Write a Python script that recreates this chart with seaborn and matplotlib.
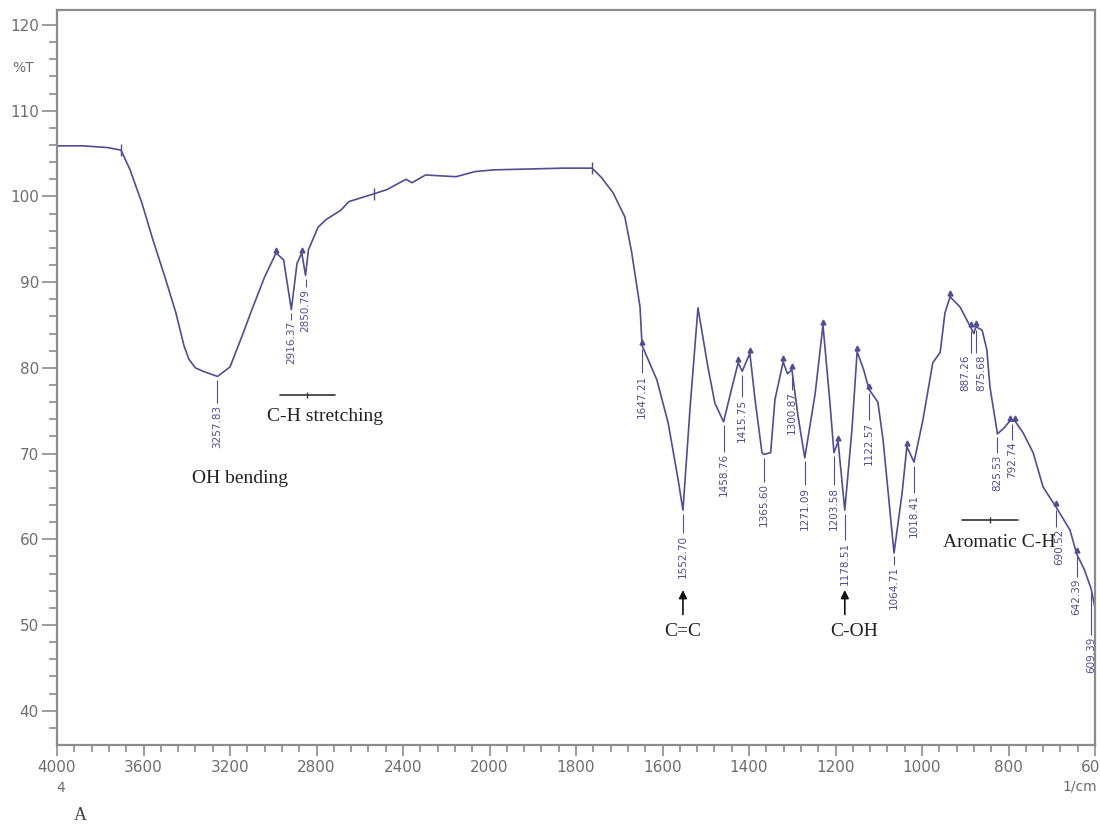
import numpy as np
import pandas as pd
import matplotlib
matplotlib.use("Agg")
import matplotlib.pyplot as plt
import seaborn as sns
from matplotlib import font_manager
from matplotlib.ticker import FixedLocator, FixedFormatter, NullFormatter

# ---- FTIR spectrum (wavenumber in 1/cm, transmittance in %T) ----
wavenumber = [4000, 3880, 3766, 3704, 3662, 3607, 3556, 3501, 3450, 3413,
              3390, 3360, 3325, 3257.83, 3200, 3146, 3094, 3040, 2987, 2952,
              2916.37, 2890, 2868, 2850.79, 2837, 2793, 2756, 2687, 2650, 2599,
              2535, 2474, 2386, 2358, 2296, 2224, 2155, 2067, 1990, 1909,
              1830, 1763, 1741, 1714, 1687, 1671, 1652, 1647.21, 1613, 1587,
              1564, 1552.70, 1536, 1518, 1495, 1479, 1458.76, 1439, 1425, 1415.75,
              1398, 1386, 1370, 1365.60, 1350, 1340, 1321, 1311, 1300.87, 1287,
              1271.09, 1247, 1229, 1213, 1203.58, 1194, 1178.51, 1162, 1150, 1135,
              1122.57, 1102, 1090, 1064.71, 1046, 1035, 1018.41, 998, 975, 958,
              947, 935, 912, 887.26, 880, 875.68, 861, 850, 843, 825.53,
              810, 797, 785, 766, 743, 720, 697, 690.52, 658, 642.39,
              625, 609.39, 600]
transmittance = [105.9, 105.9, 105.7, 105.4, 103.1, 99.2, 94.9, 90.6, 86.4, 82.6,
                 81.0, 80.0, 79.6, 79.0, 80.1, 83.6, 87.1, 90.6, 93.4, 92.6,
                 86.8, 92.2, 93.4, 90.8, 93.8, 96.4, 97.3, 98.4, 99.4, 99.8,
                 100.3, 100.8, 102.0, 101.6, 102.5, 102.4, 102.3, 102.9, 103.1, 103.2,
                 103.3, 103.3, 102.2, 100.4, 97.6, 93.4, 87.1, 82.6, 78.6, 73.6,
                 67.0, 63.4, 75.5, 87.0, 80.1, 75.9, 73.7, 77.8, 80.6, 79.6,
                 81.7, 76.3, 70.1, 69.9, 70.1, 76.3, 80.7, 79.3, 79.8, 74.5,
                 69.5, 77.0, 85.0, 76.0, 70.1, 71.4, 63.4, 72.8, 81.9, 79.8,
                 77.5, 76.0, 71.6, 58.4, 65.4, 70.8, 69.0, 73.9, 80.6, 81.8,
                 86.4, 88.3, 87.1, 84.7, 84.0, 84.8, 84.4, 82.1, 77.8, 72.3,
                 73.0, 73.8, 73.8, 72.4, 70.1, 66.1, 64.3, 63.8, 61.1, 58.3,
                 56.5, 54.3, 52.0]

# Peak-pick labels and the %T level where each label text begins
peak_positions = [3257.83, 2916.37, 2850.79, 1647.21, 1552.70, 1458.76, 1415.75,
                  1365.60, 1300.87, 1271.09, 1203.58, 1178.51, 1122.57, 1064.71,
                  1018.41, 887.26, 875.68, 825.53, 792.74, 690.52, 642.39, 609.39]
peak_texts = ["3257.83", "2916.37", "2850.79", "1647.21", "1552.70", "1458.76", "1415.75",
              "1365.60", "1300.87", "1271.09", "1203.58", "1178.51", "1122.57", "1064.71",
              "1018.41", "887.26", "875.68", "825.53", "792.74", "690.52", "642.39", "609.39"]
label_top = [75.9, 85.6, 89.4, 79.4, 60.7, 70.2, 76.6,
             66.7, 77.4, 66.3, 66.3, 59.9, 73.9, 57.0,
             65.4, 81.7, 81.7, 70.1, 71.6, 61.4, 55.6, 48.8]
label_shift = [0, 0, 0, 0, 0, 0, 0,
               0, 0, 0, 0, 0, 0, 0,
               0, -4, 4, 0, 0, 2.5, 0, 0]

# Peak-pick marks drawn on the trace
tick_marks = [3704, 2535, 1763]
triangle_marks = [2987, 2868, 1647.21, 1425, 1398, 1321, 1300.87, 1229, 1194, 1150,
                  1122.57, 1035, 935, 887.26, 875.68, 797, 785, 690.52, 642.39]

# Axis ticks
major_ticks = [4000, 3600, 3200, 2800, 2400, 2000, 1800, 1600, 1400, 1200, 1000, 800, 600]
major_tick_text = ["4000", "3600", "3200", "2800", "2400", "2000", "1800", "1600",
                   "1400", "1200", "1000", "800", "600"]
y_major = [40, 50, 60, 70, 80, 90, 100, 110, 120]

LINE = "#4e4e90"
AXIS = "#8c8c8c"
TICKTXT = "#6e6e6e"

sns.set_theme(style="white")
available = {f.name for f in font_manager.fontManager.ttflist}
narrow = "Liberation Sans Narrow" if "Liberation Sans Narrow" in available else "DejaVu Sans"
plt.rcParams["font.family"] = [narrow, "DejaVu Sans"]
serif = ["Liberation Serif", "DejaVu Serif"]

df = pd.DataFrame({"wavenumber": wavenumber, "T": transmittance})


def to_axis(w):
    w = np.asarray(w, dtype=float)
    return np.where(w <= 2000, w / 200.0, 10.0 + (w - 2000.0) / 400.0)


def from_axis(u):
    u = np.asarray(u, dtype=float)
    return np.where(u <= 10, u * 200.0, 2000.0 + (u - 10.0) * 400.0)


fig = plt.figure(figsize=(11, 8.25), dpi=100)
ax = fig.add_axes([57 / 1100, 1 - 745 / 825, (1095 - 57) / 1100, (745 - 10) / 825])
ax.set_xscale("function", functions=(to_axis, from_axis))

sns.lineplot(data=df, x="wavenumber", y="T", sort=False, estimator=None,
             color=LINE, linewidth=1.2, ax=ax)


def t_at(w):
    return float(np.interp(w, wavenumber[::-1], transmittance[::-1]))


# peak-pick marks
ax.plot(tick_marks, [t_at(w) for w in tick_marks], linestyle="none", marker="|",
        markersize=9, markeredgewidth=1.0, color=LINE)
ax.plot(triangle_marks, [t_at(w) + 0.4 for w in triangle_marks], linestyle="none",
        marker="^", markersize=3.5, color=LINE)

# peak labels with leader lines
for w, txt, top, dx in zip(peak_positions, peak_texts, label_top, label_shift):
    val = t_at(w)
    ax.vlines(w, top, val - 0.4, color=LINE, linewidth=0.8)
    ax.annotate(txt, xy=(w, top), xytext=(dx, -1), textcoords="offset points",
                rotation=90, ha="center", va="top", fontsize=7.5, color=LINE,
                family=["DejaVu Sans"])

# band assignments
ax.text(3154, 67.1, "OH bending", family=serif, fontsize=14, color="#222222",
        ha="center", va="center")
ax.plot([2969, 2714], [76.8, 76.8], color="#333333", linewidth=1.2)
ax.plot([2844], [76.8], marker="|", markersize=4, color="#333333")
ax.text(2761, 74.3, "C-H stretching", family=serif, fontsize=14, color="#222222",
        ha="center", va="center")

ax.annotate("", xy=(1552.70, 54.4), xytext=(1552.70, 50.9),
            arrowprops=dict(arrowstyle="-|>", color="#111111", lw=1.2, mutation_scale=12))
ax.text(1552.70, 49.3, "C=C", family=serif, fontsize=14, color="#222222",
        ha="center", va="center")
ax.annotate("", xy=(1178.51, 54.4), xytext=(1178.51, 50.9),
            arrowprops=dict(arrowstyle="-|>", color="#111111", lw=1.2, mutation_scale=12))
ax.text(1157, 49.3, "C-OH", family=serif, fontsize=14, color="#222222",
        ha="center", va="center")

ax.plot([908, 778], [62.2, 62.2], color="#333333", linewidth=1.2)
ax.plot([843], [62.2], marker="|", markersize=4, color="#333333")
ax.text(822, 59.6, "Aromatic C-H", family=serif, fontsize=14, color="#222222",
        ha="center", va="center")

# axes
ax.set_xlim(4000, 600)
ax.set_ylim(36, 121.75)
ax.xaxis.set_major_locator(FixedLocator(major_ticks))
ax.xaxis.set_major_formatter(FixedFormatter(major_tick_text))
minor_x = [w for w in range(4000, 1999, -80)] + [w for w in range(2000, 599, -40)]
ax.xaxis.set_minor_locator(FixedLocator(minor_x))
ax.xaxis.set_minor_formatter(NullFormatter())
ax.yaxis.set_major_locator(FixedLocator(y_major))
ax.yaxis.set_minor_locator(FixedLocator(list(range(38, 122, 2))))
ax.set_xlabel("")
ax.set_ylabel("")

for side in ax.spines.values():
    side.set_color(AXIS)
    side.set_linewidth(1.6)

ax.tick_params(axis="both", which="both", direction="out", color=AXIS,
               labelcolor=TICKTXT, width=1.2)
ax.tick_params(axis="y", which="major", length=11, pad=2, labelsize=11, left=True)
ax.tick_params(axis="y", which="minor", length=5.5, left=True)
ax.tick_params(axis="x", which="major", length=8, pad=3, labelsize=11, bottom=True)
ax.tick_params(axis="x", which="minor", length=5, bottom=True)

fig.text(23 / 1100, 1 - 68 / 825, "%T", color=TICKTXT, fontsize=10, ha="center", va="center")
fig.text(61 / 1100, 1 - 788 / 825, "4", color=TICKTXT, fontsize=10, ha="center", va="center")
fig.text(1080 / 1100, 1 - 787 / 825, "1/cm", color=TICKTXT, fontsize=10, ha="center", va="center")
fig.text(80 / 1100, 1 - 815 / 825, "A", color="#444444", fontsize=13, ha="center",
         va="center", family=serif)

fig.savefig("out.png", dpi=100, facecolor="white")
